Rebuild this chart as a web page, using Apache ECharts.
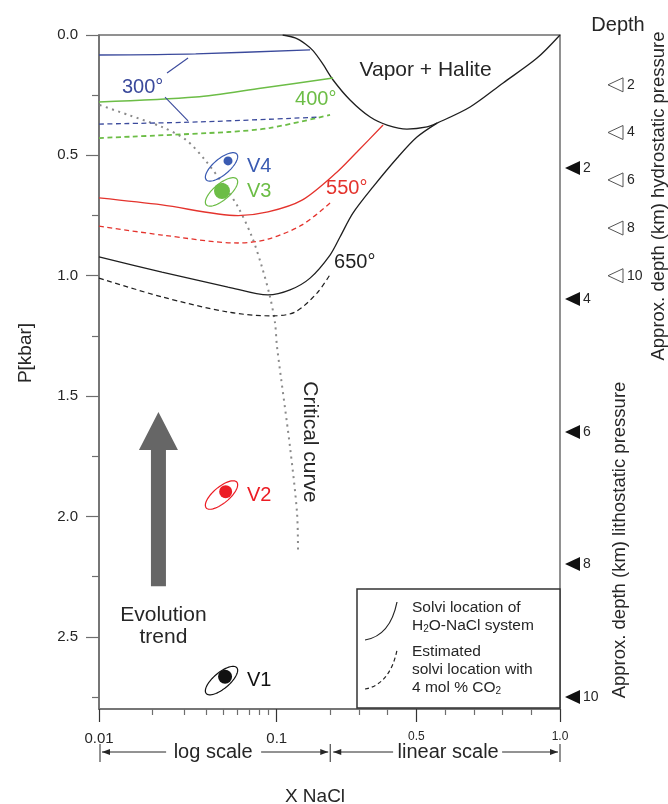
<!DOCTYPE html>
<html>
<head>
<meta charset="utf-8">
<title>H2O-NaCl solvi and fluid evolution</title>
<script src="https://cdn.jsdelivr.net/npm/echarts@6.0.0/dist/echarts.min.js"></script>
<style>
  html, body { margin: 0; padding: 0; background: #ffffff; }
  #chart { width: 668px; height: 804px; }
</style>
</head>
<body>
<div id="chart"></div>
<script>
// ---------- fonts & colours ----------
const FONT = '"Liberation Sans", Arial, Helvetica, sans-serif';
const TEXT = '#262626';
const AXIS_COLOR = '#6e6e6e';
const BLUE = '#3b4a9c';
const BLUE_V = '#3a5bb2';
const GREEN = '#6cbd46';
const RED = '#e4332d';
const RED_V = '#ec1c24';
const BLACK = '#1f1f1f';
const GREY_DOT = '#8a8a8a';
const ARROW_GREY = '#666666';

// ---------- mixed X NaCl scale: log 0.01-0.2, linear 0.2-1.0 ----------
const LOG_MIN = 0.01, LOG_MAX = 0.2, LIN_SLOPE = 1.616;
function toU(x) {
  return x <= LOG_MAX
    ? Math.log10(x / LOG_MIN)
    : Math.log10(LOG_MAX / LOG_MIN) + (x - LOG_MAX) * LIN_SLOPE;
}
const U_MAX = toU(1.0);
const P_MAX = 2.8;

// ---------- ticks ----------
const xTickMajor = [0.01, 0.1, 0.5, 1.0];
const xTickMajorLabels = ['0.01', '0.1', '0.5', '1.0'];
const xTickMinor = [0.02, 0.03, 0.04, 0.05, 0.06, 0.07, 0.08, 0.09, 0.2, 0.3, 0.4, 0.6, 0.7, 0.8, 0.9];
const yTickMajor = [0, 0.5, 1.0, 1.5, 2.0, 2.5];
const yTickMajorLabels = ['0.0', '0.5', '1.0', '1.5', '2.0', '2.5'];
const yTickMinor = [0.25, 0.75, 1.25, 1.75, 2.25, 2.75];

// ---------- halite saturation (vapor + halite field) ----------
const haliteX = [0.108, 0.127, 0.145, 0.160, 0.180, 0.210, 0.269, 0.339, 0.398, 0.467, 0.537, 0.572, 0.687, 0.802, 0.920, 1.0];
const haliteP = [0, 0.012, 0.037, 0.065, 0.116, 0.187, 0.270, 0.341, 0.374, 0.391, 0.382, 0.366, 0.299, 0.199, 0.096, 0];

// ---------- solvi, H2O-NaCl (solid) and with 4 mol% CO2 (dashed) ----------
const s300X = [0.01, 0.035, 0.154];
const s300P = [0.083, 0.078, 0.062];
const d300X = [0.01, 0.037, 0.175];
const d300P = [0.370, 0.361, 0.341];

const s400X = [0.01, 0.035, 0.083, 0.210];
const s400P = [0.278, 0.258, 0.220, 0.179];
const d400X = [0.01, 0.053, 0.092, 0.1995];
const d400P = [0.428, 0.403, 0.386, 0.332];

const s550X = [0.01, 0.0226, 0.0606, 0.0893, 0.1388, 0.224, 0.293, 0.384];
const s550P = [0.677, 0.706, 0.750, 0.735, 0.686, 0.569, 0.486, 0.374];
const d550X = [0.01, 0.0226, 0.0606, 0.0893, 0.1388, 0.1995];
const d550P = [0.794, 0.831, 0.864, 0.848, 0.789, 0.698];

const s650X = [0.01, 0.0226, 0.0532, 0.0893, 0.1188, 0.154, 0.1995, 0.234, 0.279, 0.349, 0.433, 0.502, 0.572];
const s650P = [0.922, 0.985, 1.047, 1.080, 1.059, 1.010, 0.914, 0.839, 0.740, 0.631, 0.511, 0.424, 0.366];
const d650X = [0.01, 0.0226, 0.0532, 0.0941, 0.1268, 0.1686, 0.2028];
const d650P = [1.010, 1.088, 1.151, 1.167, 1.151, 1.072, 0.989];

// ---------- critical curve ----------
const critX = [0.0101, 0.0146, 0.0226, 0.0309, 0.0395, 0.0512, 0.0606, 0.0726, 0.0826, 0.0917, 0.0978, 0.1004, 0.1188, 0.1301, 0.1318];
const critP = [0.291, 0.332, 0.382, 0.436, 0.519, 0.631, 0.715, 0.839, 0.964, 1.088, 1.196, 1.296, 1.712, 1.986, 2.152];

// ---------- fluid inclusion assemblages ----------
const inclNames = ['V1', 'V2', 'V3', 'V4'];
const inclX = [0.0512, 0.0516, 0.0492, 0.0532];
const inclP = [2.666, 1.897, 0.648, 0.523];
const inclEllipseX = [0.0489, 0.0489, 0.0489, 0.0489];
const inclEllipseP = [2.682, 1.911, 0.652, 0.548];

// ---------- depth scales (km) ----------
const depthKm = [2, 4, 6, 8, 10];
const hydroP = [0.207, 0.405, 0.602, 0.802, 1.000];
const lithoP = [0.553, 1.097, 1.649, 2.198, 2.750];

// ---------- evolution trend arrow ----------
const trendX = 0.0216;
const trendFrom = 2.29;
const trendTo = 1.566;

// ---------- isotherm labels ----------
const isoLabels = ['300°', '400°', '550°', '650°'];

// placement & style of annotations
const ISO_LAYOUT = [
  { x: 0.01347, p: 0.216, color: BLUE },
  { x: 0.1268, p: 0.266, color: GREEN },
  { x: 0.1895, p: 0.636, color: RED },
  { x: 0.2132, p: 0.947, color: BLACK }
];
const LEADERS = [[0.02414, 0.158, 0.0317, 0.0955], [0.02352, 0.258, 0.0317, 0.357]];
const INCL_STYLE = [
  { color: '#111111', dot: 14 },
  { color: RED_V, dot: 13 },
  { color: GREEN, dot: 16 },
  { color: BLUE_V, dot: 9 }
];

function nearestIndex(list, v) {
  let k = 0, best = Infinity;
  list.forEach((t, i) => { const d = Math.abs(t - v); if (d < best) { best = d; k = i; } });
  return k;
}

function curve(xs, ps, color, dash, width, z) {
  return {
    type: 'line', xAxisIndex: 0, yAxisIndex: 0,
    data: xs.map((x, i) => [toU(x), ps[i]]),
    smooth: 0.3, symbol: 'none', showSymbol: false, silent: true, z: z || 3,
    lineStyle: { color: color, width: width || 1.3, type: dash || 'solid' }
  };
}

function txt(x, y, s, size, color, align, rot, extra) {
  const style = Object.assign({
    text: s, x: 0, y: 0, fill: color || TEXT, fontSize: size, fontFamily: FONT,
    align: align || 'center', verticalAlign: 'middle',
    textAlign: align || 'center', textVerticalAlign: 'middle'
  }, extra || {});
  return { type: 'text', x: x, y: y, rotation: rot || 0, style: style };
}

function ellipsePoints(cx, cy, rx, ry, angDeg) {
  const a = angDeg * Math.PI / 180, ca = Math.cos(a), sa = Math.sin(a), pts = [];
  for (let k = 0; k < 64; k++) {
    const t = k / 64 * 2 * Math.PI, ex = rx * Math.cos(t), ey = ry * Math.sin(t);
    pts.push([cx + ex * ca + ey * sa, cy - ex * sa + ey * ca]);
  }
  return pts;
}

function arrowHead(tipX, y, dir) {
  return { type: 'polygon', shape: { points: [[tipX, y], [tipX - dir * 8, y - 3], [tipX - dir * 8, y + 3]] }, style: { fill: TEXT } };
}

function renderAnnotations(params, api) {
  const C = (x, p) => api.coord([toU(x), p]);
  const kids = [];

  // isotherm labels and the 300° leaders
  isoLabels.forEach((s, i) => {
    const L = ISO_LAYOUT[i], pt = C(L.x, L.p);
    kids.push(txt(pt[0], pt[1], s, 20, L.color, 'left'));
  });
  LEADERS.forEach(l => {
    const a = C(l[0], l[1]), b = C(l[2], l[3]);
    kids.push({ type: 'line', shape: { x1: a[0], y1: a[1], x2: b[0], y2: b[1] }, style: { stroke: BLUE, lineWidth: 1.1 } });
  });

  // field labels
  const vh = C(0.532, 0.148);
  kids.push(txt(vh[0], vh[1], 'Vapor + Halite', 21, TEXT));
  const cc = C(0.154, 1.691);
  kids.push(txt(cc[0], cc[1], 'Critical curve', 21, TEXT, 'center', -Math.PI / 2));

  // evolution trend arrow
  const a = C(trendX, trendFrom), b = C(trendX, trendTo);
  const sw = 7.5, hw = 19.5, hl = 38;
  kids.push({
    type: 'polygon',
    shape: { points: [[a[0] - sw, a[1]], [a[0] - sw, b[1] + hl], [a[0] - hw, b[1] + hl], [b[0], b[1]],
                      [a[0] + hw, b[1] + hl], [a[0] + sw, b[1] + hl], [a[0] + sw, a[1]]] },
    style: { fill: ARROW_GREY }
  });
  kids.push(txt(a[0] + 5, a[1] + 29, 'Evolution', 21, TEXT));
  kids.push(txt(a[0] + 5, a[1] + 51, 'trend', 21, TEXT));

  // depth markers on the right
  const xr = C(1.0, 0)[0];
  depthKm.forEach((d, i) => {
    const yh = C(1.0, hydroP[i])[1];
    kids.push({ type: 'polygon', shape: { points: [[xr + 48, yh], [xr + 63, yh - 7], [xr + 63, yh + 7]] },
                style: { fill: '#ffffff', stroke: '#555555', lineWidth: 1 } });
    kids.push(txt(xr + 67, yh, String(d), 14, TEXT, 'left'));
    const yl = C(1.0, lithoP[i])[1];
    kids.push({ type: 'polygon', shape: { points: [[xr + 5, yl], [xr + 20, yl - 7], [xr + 20, yl + 7]] },
                style: { fill: '#111111' } });
    kids.push(txt(xr + 23, yl, String(d), 14, TEXT, 'left'));
  });

  // log / linear scale bracket
  const yb = C(0.01, P_MAX)[1];
  const xa = C(0.01, 0)[0] + 1, xb = C(0.2, 0)[0], xc = C(1.0, 0)[0];
  const yline = yb + 43;
  [xa, xb, xc].forEach(x => kids.push({ type: 'line', shape: { x1: x, y1: yb + 35, x2: x, y2: yb + 53 }, style: { stroke: TEXT, lineWidth: 1 } }));
  const m1 = (xa + xb) / 2 - 2, m2 = (xb + xc) / 2 + 3;
  [[xa + 2, m1 - 47], [m1 + 48, xb - 2], [xb + 3, m2 - 55], [m2 + 54, xc - 2]].forEach(s => {
    kids.push({ type: 'line', shape: { x1: s[0], y1: yline, x2: s[1], y2: yline }, style: { stroke: TEXT, lineWidth: 1 } });
  });
  kids.push(arrowHead(xa + 2, yline, -1));
  kids.push(arrowHead(xb - 2, yline, 1));
  kids.push(arrowHead(xb + 3, yline, -1));
  kids.push(arrowHead(xc - 2, yline, 1));
  kids.push(txt(m1, yline, 'log scale', 20, TEXT));
  kids.push(txt(m2, yline, 'linear scale', 20, TEXT));

  return { type: 'group', children: kids };
}

function renderInclusion(params, api) {
  const i = params.dataIndex;
  const c = api.coord([api.value(0), api.value(1)]);
  const col = INCL_STYLE[i].color;
  return {
    type: 'group',
    children: [
      { type: 'polygon', shape: { points: ellipsePoints(c[0], c[1], 20, 8, 40) }, style: { fill: 'none', stroke: col, lineWidth: 1.2 } },
      txt(c[0] + 25.5, c[1], inclNames[i], 20, col, 'left')
    ]
  };
}

const chart = echarts.init(document.getElementById('chart'), null, { renderer: 'canvas' });

const xBase = { type: 'value', gridIndex: 0, min: 0, max: U_MAX, splitLine: { show: false }, position: 'bottom' };
const yBase = { type: 'value', gridIndex: 0, min: 0, max: P_MAX, inverse: true, splitLine: { show: false }, position: 'left' };

chart.setOption({
  animation: false,
  backgroundColor: '#ffffff',
  grid: [{
    left: 99, right: 108, top: 35, bottom: 95,
    show: true, borderColor: AXIS_COLOR, borderWidth: 1.5, backgroundColor: 'transparent',
    containLabel: false, outerBoundsMode: 'none'
  }],
  xAxis: [
    Object.assign({}, xBase, {
      axisLine: { show: true, onZero: false, lineStyle: { color: AXIS_COLOR, width: 1.5 } },
      axisTick: { show: true, customValues: xTickMinor.map(toU), length: 6, lineStyle: { color: AXIS_COLOR, width: 1.2 } },
      axisLabel: { show: false }
    }),
    Object.assign({}, xBase, {
      axisLine: { show: false, onZero: false },
      axisTick: { show: true, customValues: xTickMajor.map(toU), length: 13, lineStyle: { color: '#333333', width: 1.2 } },
      axisLabel: {
        show: true, customValues: xTickMajor.map(toU), margin: 22, color: TEXT,
        formatter: v => {
          const k = nearestIndex(xTickMajor.map(toU), v);
          return (k < 2 ? '{a|' : '{b|') + xTickMajorLabels[k] + '}';
        },
        rich: {
          a: { fontSize: 15, fontFamily: FONT, color: TEXT },
          b: { fontSize: 12, fontFamily: FONT, color: TEXT }
        }
      }
    })
  ],
  yAxis: [
    Object.assign({}, yBase, {
      axisLine: { show: true, onZero: false, lineStyle: { color: AXIS_COLOR, width: 1.5 } },
      axisTick: { show: true, customValues: yTickMajor, length: 13, lineStyle: { color: AXIS_COLOR, width: 1.2 } },
      axisLabel: {
        show: true, customValues: yTickMajor, margin: 21, color: TEXT, fontSize: 15, fontFamily: FONT,
        formatter: v => yTickMajorLabels[nearestIndex(yTickMajor, v)]
      }
    }),
    Object.assign({}, yBase, {
      axisLine: { show: false, onZero: false },
      axisTick: { show: true, customValues: yTickMinor, length: 7, lineStyle: { color: AXIS_COLOR, width: 1.2 } },
      axisLabel: { show: false }
    })
  ],
  graphic: [
    { type: 'text', x: 618, y: 25, style: { text: 'Depth', x: 0, y: 0, fill: TEXT, fontSize: 20, fontFamily: FONT, align: 'center', verticalAlign: 'middle', textAlign: 'center', textVerticalAlign: 'middle' } },
    { type: 'text', x: 659, y: 196, rotation: Math.PI / 2, style: { text: 'Approx. depth (km) hydrostatic pressure', x: 0, y: 0, fill: TEXT, fontSize: 18.5, fontFamily: FONT, align: 'center', verticalAlign: 'middle', textAlign: 'center', textVerticalAlign: 'middle' } },
    { type: 'text', x: 620, y: 540, rotation: Math.PI / 2, style: { text: 'Approx. depth (km) lithostatic pressure', x: 0, y: 0, fill: TEXT, fontSize: 18.5, fontFamily: FONT, align: 'center', verticalAlign: 'middle', textAlign: 'center', textVerticalAlign: 'middle' } },
    { type: 'text', x: 26, y: 353, rotation: Math.PI / 2, style: { text: 'P[kbar]', x: 0, y: 0, fill: TEXT, fontSize: 19, fontFamily: FONT, align: 'center', verticalAlign: 'middle', textAlign: 'center', textVerticalAlign: 'middle' } },
    { type: 'text', x: 315, y: 797, style: { text: 'X NaCl', x: 0, y: 0, fill: TEXT, fontSize: 19, fontFamily: FONT, align: 'center', verticalAlign: 'middle', textAlign: 'center', textVerticalAlign: 'middle' } },
    // legend box
    { type: 'rect', shape: { x: 357, y: 589, width: 203, height: 119 }, style: { fill: '#ffffff', stroke: '#333333', lineWidth: 1.5 }, z: 20 },
    { type: 'bezierCurve', shape: { x1: 365, y1: 640, cpx1: 383, cpy1: 637, cpx2: 393, cpy2: 622, x2: 397, y2: 602 }, style: { stroke: '#222222', lineWidth: 1.2, fill: null }, z: 21 },
    { type: 'bezierCurve', shape: { x1: 365, y1: 689, cpx1: 383, cpy1: 686, cpx2: 393, cpy2: 670, x2: 397, y2: 650 }, style: { stroke: '#222222', lineWidth: 1.2, fill: null, lineDash: [4, 3] }, z: 21 },
    { type: 'text', x: 412, y: 608, z: 21, style: { text: 'Solvi location of', x: 0, y: 0, fill: TEXT, fontSize: 15.5, fontFamily: FONT, align: 'left', verticalAlign: 'middle', textAlign: 'left', textVerticalAlign: 'middle' } },
    { type: 'text', x: 412, y: 626, z: 21, style: { text: '{n|H}{s|2}{n|O-NaCl system}', x: 0, y: 0, fill: TEXT, fontSize: 15.5, fontFamily: FONT, align: 'left', verticalAlign: 'middle', textAlign: 'left', textVerticalAlign: 'middle',
        rich: { n: { fontSize: 15.5, fontFamily: FONT, fill: TEXT }, s: { fontSize: 10, fontFamily: FONT, fill: TEXT, verticalAlign: 'bottom' } } } },
    { type: 'text', x: 412, y: 652, z: 21, style: { text: 'Estimated', x: 0, y: 0, fill: TEXT, fontSize: 15.5, fontFamily: FONT, align: 'left', verticalAlign: 'middle', textAlign: 'left', textVerticalAlign: 'middle' } },
    { type: 'text', x: 412, y: 670, z: 21, style: { text: 'solvi location with', x: 0, y: 0, fill: TEXT, fontSize: 15.5, fontFamily: FONT, align: 'left', verticalAlign: 'middle', textAlign: 'left', textVerticalAlign: 'middle' } },
    { type: 'text', x: 412, y: 688, z: 21, style: { text: '{n|4 mol % CO}{s|2}', x: 0, y: 0, fill: TEXT, fontSize: 15.5, fontFamily: FONT, align: 'left', verticalAlign: 'middle', textAlign: 'left', textVerticalAlign: 'middle',
        rich: { n: { fontSize: 15.5, fontFamily: FONT, fill: TEXT }, s: { fontSize: 10, fontFamily: FONT, fill: TEXT, verticalAlign: 'bottom' } } } }
  ],
  series: [
    curve(haliteX, haliteP, BLACK, 'solid', 1.3),
    curve(s300X, s300P, BLUE, 'solid', 1.3),
    curve(d300X, d300P, BLUE, [5, 3.5], 1.3),
    curve(s400X, s400P, GREEN, 'solid', 1.5),
    curve(d400X, d400P, GREEN, [5, 3.5], 1.8),
    curve(s550X, s550P, RED, 'solid', 1.3),
    curve(d550X, d550P, RED, [5, 3.5], 1.3),
    curve(s650X, s650P, BLACK, 'solid', 1.3),
    curve(d650X, d650P, BLACK, [5, 3.5], 1.2),
    curve(critX, critP, GREY_DOT, [2, 4.5], 2, 2),
    {
      type: 'custom', xAxisIndex: 0, yAxisIndex: 0, silent: true, z: 5, clip: false,
      data: inclEllipseX.map((x, i) => [toU(x), inclEllipseP[i]]),
      renderItem: renderInclusion
    },
    {
      type: 'scatter', xAxisIndex: 0, yAxisIndex: 0, silent: true, z: 6,
      data: inclX.map((x, i) => ({ value: [toU(x), inclP[i]], symbolSize: INCL_STYLE[i].dot, itemStyle: { color: INCL_STYLE[i].color, opacity: 1 } }))
    },
    {
      type: 'custom', xAxisIndex: 0, yAxisIndex: 0, silent: true, z: 7, clip: false,
      data: [[0, 0]],
      renderItem: renderAnnotations
    }
  ]
});
</script>
</body>
</html>
